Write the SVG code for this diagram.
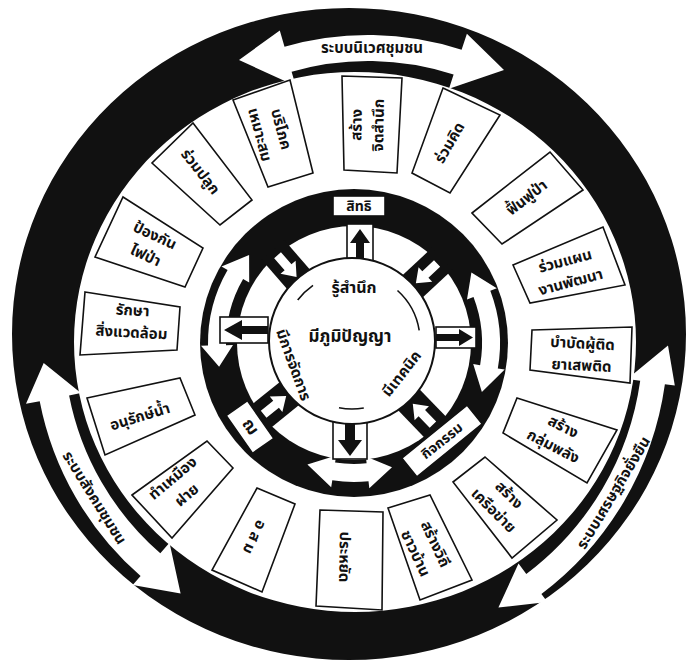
<svg xmlns="http://www.w3.org/2000/svg" width="689" height="665" viewBox="0 0 689 665">
<style>
.t{font-family:"Noto Sans Thai","Noto Sans","DejaVu Sans",sans-serif;font-weight:bold;font-size:15px;fill:#111;text-anchor:middle;dominant-baseline:central}
.s{font-size:14px}
.box{fill:#fff;stroke:#111;stroke-width:1.6}
.w{fill:#fff}
.k{fill:#111}
.ln{fill:none;stroke:#111;stroke-width:1.6}
</style>
<rect width="689" height="665" fill="#fff"/>
<g id="outer-ring">
<path class="k" fill-rule="evenodd" d="M12,334 a337,326 0 1,0 674,0 a337,326 0 1,0 -674,0 Z M74,342 a281,270 0 1,0 562,0 a281,270 0 1,0 -562,0 Z"/>
</g>
<g id="connectors">
<path class="w" d="M279.8,30.4 L239,60 L295.8,86.1 L291.6,71.7 A277,277 0 0,1 453.6,74.6 L449,88.8 L504,70 L466.9,33.7 L461.6,49.8 A303,303 0 0,0 284.5,46.7 Z"/>
<path class="w" d="M43.7,363 L26,403.8 L39.7,401.2 A310,310 0 0,0 140.6,576 L132.7,585 L180.6,593.6 L169.5,542.8 L160.3,553.3 A280,280 0 0,1 69.1,395.4 L80.9,393.1 Z"/>
<path class="w" d="M668,345.5 L674.8,385.6 L664.9,384.3 A318,318 0 0,1 541.4,594 L547.4,602 L498.4,607.6 L518.5,563.6 L526.3,574 A293,293 0 0,0 640.2,380.8 L627.3,379 Z"/>
</g>
<g id="label-ecology"><text class="t" x="372" y="48">ระบบนิเวศชุมชน</text></g>
<g id="label-society"><text class="t" transform="translate(94,498) rotate(58)">ระบบสังคมชุมชน</text></g>
<g id="label-economy"><text class="t" transform="translate(614,493) rotate(-59)">ระบบเศรษฐกิจยั่งยืน</text></g>

<g id="box-1"><polygon class="box" points="342,76 402,78 397,173 344,170"/><g transform="translate(368,125) rotate(-89)"><text class="t" y="-11">สร้าง</text><text class="t" y="11">จิตสำนึก</text></g></g>
<g id="box-2"><polygon class="box" points="443,88 500,115 450,193 412,173"/><text class="t" transform="translate(450,143) rotate(-60)">ร่วมคิด</text></g>
<g id="box-3"><polygon class="box" points="472,213 550,152 583,190 502,244"/><text class="t" transform="translate(527,198) rotate(-38)">ฟื้นฟูป่า</text></g>
<g id="box-4"><polygon class="box" points="513,265 603,227 625,285 530,303"/><g transform="translate(568,272) rotate(-15)"><text class="t" y="-11">ร่วมแผน</text><text class="t" y="11">งานพัฒนา</text></g></g>
<g id="box-5"><polygon class="box" points="532,330 632,327 630,383 530,370"/><g transform="translate(582,355) rotate(3)"><text class="t" y="-11">บำบัดผู้ติด</text><text class="t" y="11">ยาเสพติด</text></g></g>
<g id="box-6"><polygon class="box" points="517,398 617,430 587,483 503,433"/><g transform="translate(558,437) rotate(27)"><text class="t" y="-11">สร้าง</text><text class="t" y="11">กลุ่มพลัง</text></g></g>
<g id="box-7"><polygon class="box" points="485,457 557,520 512,558 453,482"/><g transform="translate(501,503) rotate(45)"><text class="t" y="-11">สร้าง</text><text class="t" y="11">เครือข่าย</text></g></g>
<g id="box-8"><polygon class="box" points="388,508 430,495 472,580 420,600"/><g transform="translate(425,549) rotate(65)"><text class="t" y="-11">สร้างวิถี</text><text class="t" y="11">ชาวบ้าน</text></g></g>
<g id="box-9"><polygon class="box" points="320,510 383,512 382,610 316,606"/><text class="t" transform="translate(344,557) rotate(91)">ประหยัด</text></g>
<g id="box-10"><polygon class="box" points="257,488 295,504 262,592 212,570"/><text class="t" transform="translate(254,537) rotate(115)">อ ส ม</text></g>
<g id="box-11"><polygon class="box" points="132,495 207,441 233,468 172,538"/><g transform="translate(180,487) rotate(-40)"><text class="t" y="-11">ทำเหมือง</text><text class="t" y="11">ฝาย</text></g></g>
<g id="box-12"><polygon class="box" points="87,398 180,378 195,415 105,455"/><text class="t" transform="translate(140,417) rotate(-17)">อนุรักษ์น้ำ</text></g>
<g id="box-13"><polygon class="box" points="85,292 180,307 177,350 80,355"/><g transform="translate(132,322) rotate(3)"><text class="t" y="-11">รักษา</text><text class="t" y="11">สิ่งแวดล้อม</text></g></g>
<g id="box-14"><polygon class="box" points="123,197 203,248 185,287 95,257"/><g transform="translate(150,246) rotate(25)"><text class="t" y="-11">ป้องกัน</text><text class="t" y="11">ไฟป่า</text></g></g>
<g id="box-15"><polygon class="box" points="193,123 252,200 220,225 152,163"/><text class="t" transform="translate(200,172) rotate(52)">ร่วมปลูก</text></g>
<g id="box-16"><polygon class="box" points="233,100 290,80 313,173 268,187"/><g transform="translate(270,132) rotate(75)"><text class="t" y="-11">บริโภค</text><text class="t" y="11">เหมาะสม</text></g></g>

<g id="inner-ring">
<circle class="k" cx="354" cy="343" r="154"/>
<circle class="w" cx="354" cy="343" r="117"/>
<path class="w" d="M219.1,366.8 L201,345.7 L208,345.5 A146,146 0 0,1 227.6,270 L221.5,266.5 L249.1,254.9 L249.2,282.5 L243.1,279 A128,128 0 0,0 226,345.2 L233,345.1 Z"/>
<path class="w" d="M481.9,392.1 L504.7,369.6 L497.8,368.4 A146,146 0 0,0 490.3,290.7 L496.8,288.2 L471.4,272.4 L467,299.6 L473.5,297.1 A128,128 0 0,1 480.1,365.2 L473.2,364 Z"/>
<path class="w" d="M307.4,464.4 L336.2,455.6 L335.1,462.5 A121,121 0 0,0 366.6,463.3 L365.9,456.4 L392,467.3 L369.3,488.2 L368.5,481.2 A139,139 0 0,1 332.3,480.3 L331.2,487.2 Z"/>
</g>
<g id="spokes">
<g transform="translate(287.4,266.5) rotate(49)"><rect class="k" x="-22" y="-15" width="44" height="30"/><polygon class="w" points="-15,-4.5 1,-4.5 1,-10 14,0 1,10 1,4.5 -15,4.5"/></g>
<g transform="translate(426.1,273.8) rotate(137)"><rect class="k" x="-22" y="-15" width="44" height="30"/><polygon class="w" points="-15,-4.5 1,-4.5 1,-10 14,0 1,10 1,4.5 -15,4.5"/></g>
<g transform="translate(422.5,413.9) rotate(226)"><rect class="k" x="-22" y="-15" width="44" height="30"/><polygon class="w" points="-15,-4.5 1,-4.5 1,-10 14,0 1,10 1,4.5 -15,4.5"/></g>
<g transform="translate(275.3,404.9) rotate(-39)"><rect class="k" x="-22" y="-15" width="44" height="30"/><polygon class="w" points="-15,-4.5 1,-4.5 1,-10 14,0 1,10 1,4.5 -15,4.5"/></g>
<rect class="box" x="347" y="224" width="26" height="38"/><polygon class="k" points="360,229 370,243 364,243 364,262 356,262 356,243 350,243"/>
<rect class="box" x="436" y="327" width="40" height="21"/><polygon class="k" points="473,337.5 459,346 459,341 436,341 436,334 459,334 459,329"/>
<rect class="box" x="333" y="421" width="34" height="38"/><polygon class="k" points="350,456 362,440 355,440 355,421 345,421 345,440 338,440"/>
<rect class="box" x="220" y="317" width="48" height="26"/><polygon class="k" points="224,330 242,320 242,326 268,326 268,334 242,334 242,340"/>
</g>
<g id="core">
<circle cx="352" cy="341" r="83" fill="#fff" stroke="#111" stroke-width="2"/>
<path class="ln" d="M297.7,300.1 A68,68 0 0,1 313,285.3 M397.5,290.5 A68,68 0 0,1 419.2,330.4 M363.8,408 A68,68 0 0,1 339,407.8"/>
<text class="t" x="354" y="288" style="font-size:16px">รู้สำนึก</text>
<text class="t" x="350" y="337" style="font-size:17px">มีภูมิปัญญา</text>
<text class="t" transform="translate(293,365) rotate(70)">มีการจัดการ</text>
<text class="t" transform="translate(402,374) rotate(-52)">มีเทคนิค</text>
</g>
<g id="label-right"><rect class="box" x="333" y="196" width="52" height="20"/><text class="t s" x="359" y="206">สิทธิ</text></g>
<g id="label-fund" transform="translate(250,427) rotate(55)"><rect class="box" x="-23" y="-13" width="46" height="26"/><text class="t" style="font-size:17px">ฌ</text></g>
<g id="label-activity" transform="translate(442,441) rotate(-39)"><rect class="box" x="-42" y="-12" width="84" height="24"/><text class="t s">กิจกรรม</text></g>
</svg>
